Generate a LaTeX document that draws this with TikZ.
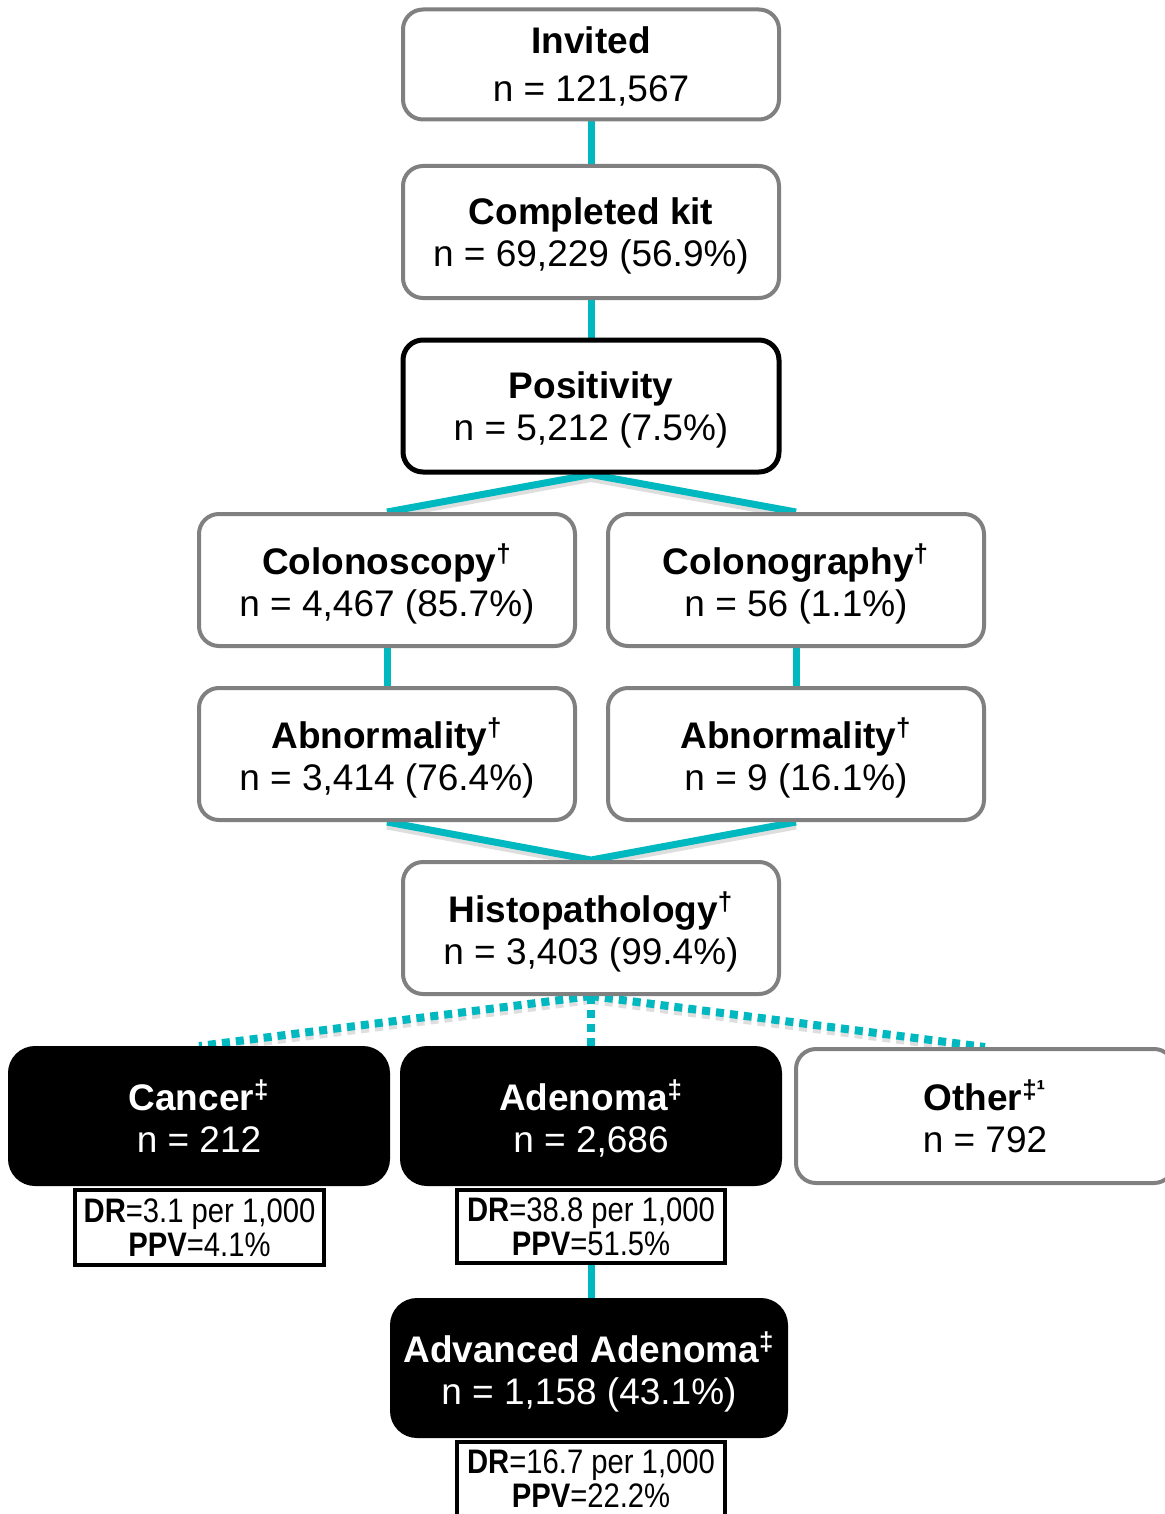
\documentclass[tikz,border=0pt]{standalone}
\usepackage{fontspec}
\setmainfont{Liberation Sans}
\newfontfamily\condfont[FakeStretch=0.86]{Liberation Sans}
\pgfdeclarelayer{bg}
\pgfsetlayers{bg,main}
\definecolor{tealc}{RGB}{0,185,192}
\definecolor{boxgray}{RGB}{128,128,128}
\tikzset{
 graybox/.style={draw=boxgray, line width=2pt, rounded corners=10pt, fill=white,
   minimum width=188pt, minimum height=66pt, align=center, inner sep=0pt, text depth=0pt,
   font=\fontsize{18.5}{21}\selectfont},
 posbox/.style={graybox, draw=black, line width=2.5pt},
 blackbox/.style={graybox, draw=black, fill=black, text=white, line width=1pt,
   minimum width=190pt, minimum height=69pt, rounded corners=13pt},
 drbox/.style={draw=black, line width=2pt, fill=white, align=center, inner sep=0pt, text depth=0pt,
   font=\condfont\fontsize{17}{17}\selectfont},
 conn/.style={draw=tealc, line width=3.5pt, line join=miter},
 dotconn/.style={draw=tealc, line width=4pt, dash pattern=on 4pt off 3pt},
 shade/.style={draw=black!13, line width=3.5pt, transform canvas={yshift=-2pt}},
}
\begin{document}
\begin{tikzpicture}[x=0.5pt,y=-0.5pt]
\useasboundingbox (0,0) rectangle (1164,1514);

\node[graybox, minimum height=55pt, font=\fontsize{18.5}{24}\selectfont] (inv) at (591,64.5) {\textbf{Invited}\\n = 121,567};
\node[graybox] (comp) at (591,232) {\textbf{Completed kit}\\n = 69,229 (56.9\%)};
\node[posbox] (pos) at (591,406) {\textbf{Positivity}\\n = 5,212 (7.5\%)};
\node[graybox] (colo) at (387,580) {\textbf{Colonoscopy\textsuperscript{†}}\\n = 4,467 (85.7\%)};
\node[graybox] (cgr) at (796,580) {\textbf{Colonography\textsuperscript{†}}\\n = 56 (1.1\%)};
\node[graybox] (abl) at (387,754) {\textbf{Abnormality\textsuperscript{†}}\\n = 3,414 (76.4\%)};
\node[graybox] (abr) at (796,754) {\textbf{Abnormality\textsuperscript{†}}\\n = 9 (16.1\%)};
\node[graybox] (hist) at (591,928) {\textbf{Histopathology\textsuperscript{†}}\\n = 3,403 (99.4\%)};
\node[blackbox] (canc) at (199,1116) {\textbf{Cancer\textsuperscript{‡}}\\n = 212};
\node[blackbox] (aden) at (591,1116) {\textbf{Adenoma\textsuperscript{‡}}\\n = 2,686};
\node[graybox, minimum width=189pt, minimum height=67pt] (oth) at (985,1116) {\textbf{Other\textsuperscript{‡¹}}\\n = 792};
\node[drbox, minimum width=124.5pt, minimum height=37.5pt] (dr1) at (199.5,1227.5) {\textbf{DR}=3.1 per 1,000\\\textbf{PPV}=4.1\%};
\node[drbox, minimum width=134pt, minimum height=36.5pt] (dr2) at (591,1226.5) {\textbf{DR}=38.8 per 1,000\\\textbf{PPV}=51.5\%};
\node[blackbox, minimum width=198pt] (adv) at (589,1368) {\textbf{Advanced Adenoma\textsuperscript{‡}}\\n = 1,158 (43.1\%)};
\node[drbox, minimum width=134pt, minimum height=37.5pt] (dr3) at (591,1479) {\textbf{DR}=16.7 per 1,000\\\textbf{PPV}=22.2\%};

\begin{pgfonlayer}{bg}
\fill[white] (0,0) rectangle (1164,1514);
\draw[shade] (colo.north) -- (pos.south) -- (cgr.north);
\draw[shade] (abl.south) -- (hist.north) -- (abr.south);
\draw[shade, dash pattern=on 4pt off 3pt, line width=4pt] (hist.south) -- (canc.north);
\draw[shade, dash pattern=on 4pt off 3pt, line width=4pt] (hist.south) -- (oth.north);
\draw[conn] (inv.south) -- (comp.north);
\draw[conn] (comp.south) -- (pos.north);
\draw[conn] (colo.north) -- (pos.south) -- (cgr.north);
\draw[conn] (colo.south) -- (abl.north);
\draw[conn] (cgr.south) -- (abr.north);
\draw[conn] (abl.south) -- (hist.north) -- (abr.south);
\draw[dotconn] (hist.south) -- (canc.north);
\draw[dotconn] (hist.south) -- (aden.north);
\draw[dotconn] (hist.south) -- (oth.north);
\draw[conn] (dr2.south) -- (dr2.south |- adv.north);
\end{pgfonlayer}
\end{tikzpicture}
\end{document}
